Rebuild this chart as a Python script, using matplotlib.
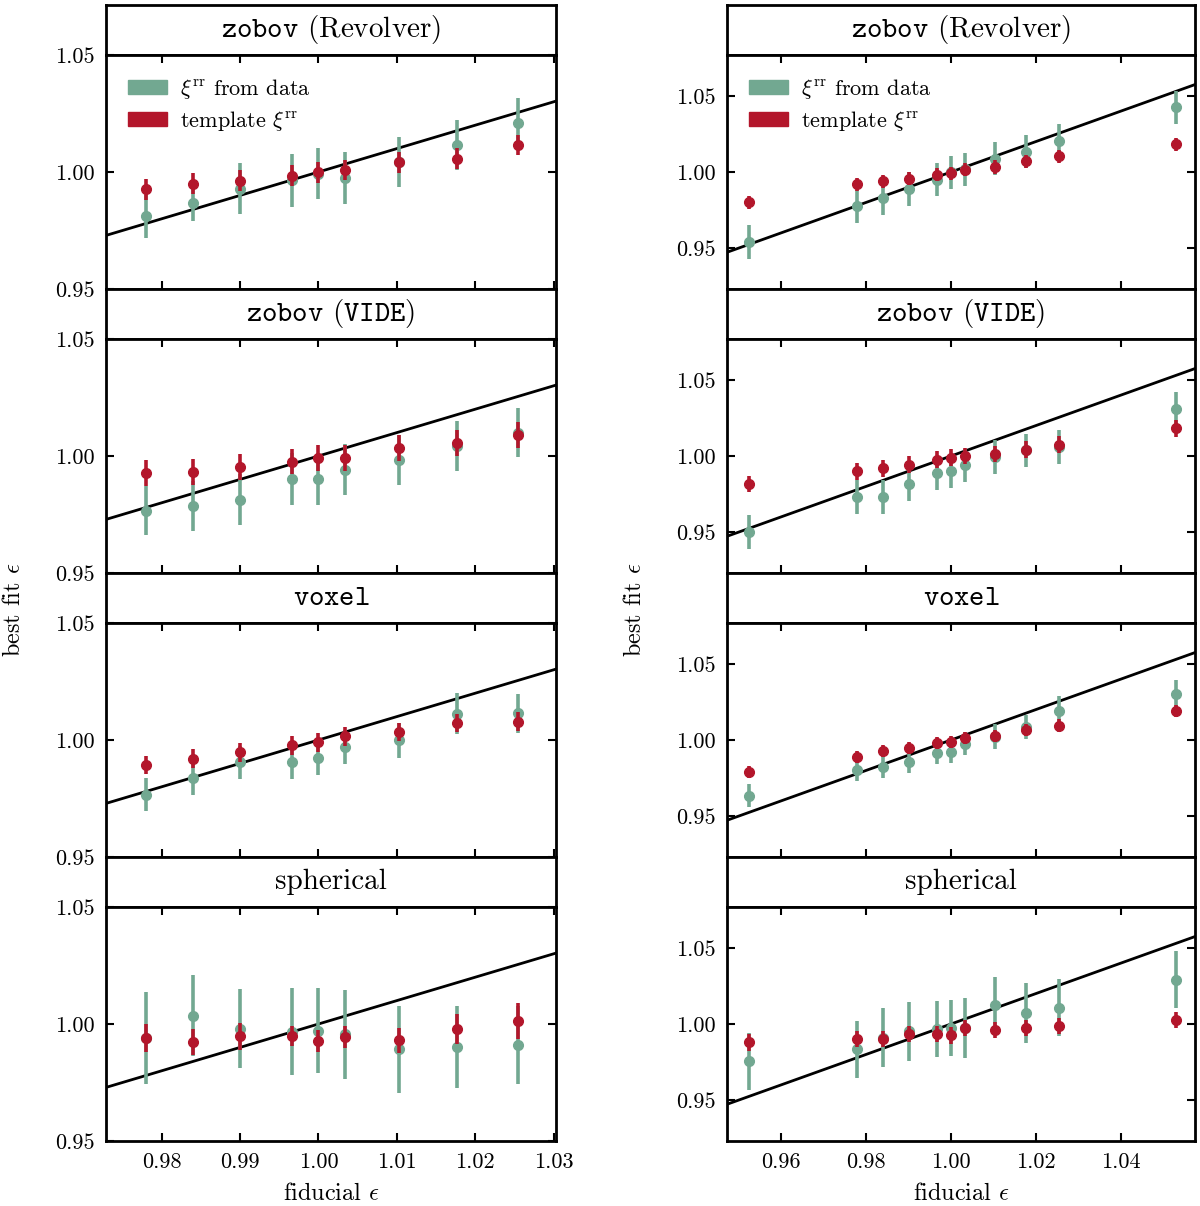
import matplotlib
matplotlib.use("Agg")
import matplotlib.pyplot as plt
from matplotlib.patches import Patch
from matplotlib.ticker import FormatStrFormatter, FixedLocator

plt.rcParams['font.family'] = 'serif'
plt.rcParams['font.serif'] = ['cmr10']
plt.rcParams['mathtext.fontset'] = 'cm'
plt.rcParams['axes.formatter.use_mathtext'] = True

# fiducial epsilon values
fid_right = [0.9525, 0.978, 0.984, 0.990, 0.9966, 1.000, 1.0034, 1.0103, 1.0177, 1.0255, 1.053]
fid_left = fid_right[1:-1]

titles = [r"$\mathtt{zobov}$ (Revolver)", r"$\mathtt{zobov}$ ($\mathtt{VIDE}$)",
          r"$\mathtt{voxel}$", "spherical"]

# left column (narrow range)
data_left = [
    [0.981, 0.9866, 0.9929, 0.9964, 0.9993, 0.9974, 1.0043, 1.0115, 1.0208],
    [0.9766, 0.9786, 0.9813, 0.9902, 0.9902, 0.9942, 0.9984, 1.0043, 1.010],
    [0.9766, 0.9836, 0.9905, 0.9905, 0.9922, 0.997, 0.9999, 1.0113, 1.0114],
    [0.994, 1.0036, 0.998, 0.9967, 0.9972, 0.9956, 0.9892, 0.9902, 0.9912],
]
data_left_err = [
    [0.0091, 0.0074, 0.011, 0.0114, 0.011, 0.011, 0.0107, 0.0108, 0.0108],
    [0.0105, 0.0107, 0.011, 0.011, 0.011, 0.0108, 0.0107, 0.0105, 0.0105],
    [0.0071, 0.0071, 0.0071, 0.0071, 0.0071, 0.0071, 0.0075, 0.0086, 0.0084],
    [0.0195, 0.0172, 0.017, 0.0187, 0.018, 0.019, 0.0187, 0.0177, 0.0167],
]
tmpl_left = [
    [0.9926, 0.995, 0.9963, 0.9984, 0.9999, 1.0009, 1.0041, 1.0057, 1.0115],
    [0.9926, 0.9932, 0.9952, 0.9976, 0.9991, 0.999, 1.0033, 1.0054, 1.009],
    [0.9893, 0.992, 0.9947, 0.9977, 0.999, 1.0016, 1.0034, 1.0073, 1.0078],
    [0.994, 0.9923, 0.9947, 0.9949, 0.9927, 0.9944, 0.993, 0.998, 1.0013],
]
tmpl_left_err = [
    [0.0044] * 9,
    [0.0055] * 9,
    [0.004] * 9,
    [0.006, 0.0056, 0.0057, 0.0044, 0.0046, 0.0047, 0.0055, 0.0064, 0.0075],
]

# right column (wide range)
data_right = [
    [0.954, 0.9775, 0.983, 0.9887, 0.995, 0.9998, 1.0018, 1.0088, 1.0133, 1.0206, 1.0424],
    [0.950, 0.9732, 0.973, 0.9815, 0.9888, 0.9899, 0.9938, 0.9993, 1.0037, 1.006, 1.031],
    [0.9635, 0.9802, 0.9822, 0.9857, 0.9916, 0.9921, 0.9976, 1.0022, 1.0086, 1.0191, 1.0301],
    [0.9756, 0.9835, 0.991, 0.9952, 0.9967, 0.9974, 0.9974, 1.0123, 1.0073, 1.0106, 1.029],
]
data_right_err = [
    [0.011] * 11,
    [0.011] * 11,
    [0.0073, 0.0071, 0.0074, 0.0074, 0.0073, 0.0075, 0.0074, 0.0082, 0.0077, 0.0095, 0.0095],
    [0.0187, 0.0187, 0.0194, 0.0194, 0.0185, 0.0185, 0.0195, 0.0185, 0.0195, 0.0187, 0.0187],
]
tmpl_right = [
    [0.980, 0.992, 0.994, 0.9956, 0.9982, 0.9993, 1.0015, 1.0033, 1.0071, 1.0102, 1.0181],
    [0.9817, 0.9899, 0.9919, 0.9943, 0.9976, 0.9989, 1.000, 1.0013, 1.0042, 1.0073, 1.0183],
    [0.9791, 0.989, 0.9927, 0.9945, 0.9982, 0.9989, 1.0013, 1.0024, 1.0066, 1.0095, 1.0189],
    [0.9879, 0.9903, 0.9903, 0.9932, 0.9936, 0.9925, 0.9974, 0.9963, 0.9976, 0.9987, 1.0026],
]
tmpl_right_err = [
    [0.0043] * 11,
    [0.0055] * 11,
    [0.004] * 11,
    [0.0053] * 11,
]

green = '#72a891'
red = '#b3162b'

W, H = 1200, 1206
fig = plt.figure(figsize=(12, 12.06), dpi=100)


def fx(px):
    return px / W


def fy(px):
    return 1 - px / H


cols = [
    dict(x0=106, x1=556, xlim=(0.9729, 1.0303), ylim=(0.95, 1.05),
         xticks=[0.98, 0.99, 1.00, 1.01, 1.02, 1.03],
         fid=fid_left, d=data_left, de=data_left_err, t=tmpl_left, te=tmpl_left_err),
    dict(x0=727, x1=1195, xlim=(0.9473, 1.0574), ylim=(0.9232, 1.0768),
         xticks=[0.96, 0.98, 1.00, 1.02, 1.04],
         fid=fid_right, d=data_right, de=data_right_err, t=tmpl_right, te=tmpl_right_err),
]

for c in cols:
    for i in range(4):
        top = 5 + 284 * i
        atop = top + 50
        abot = atop + 234
        # title box
        tax = fig.add_axes([fx(c['x0']), fy(atop), fx(c['x1'] - c['x0']), (atop - top) / H])
        tax.set_xticks([])
        tax.set_yticks([])
        for s in tax.spines.values():
            s.set_linewidth(2)
        tax.text(0.5, 0.5, titles[i], ha='center', va='center', fontsize=21,
                 transform=tax.transAxes)

        ax = fig.add_axes([fx(c['x0']), fy(abot), fx(c['x1'] - c['x0']), 234 / H])
        for s in ax.spines.values():
            s.set_linewidth(2)
        ax.plot(c['xlim'], c['xlim'], color='black', lw=2, zorder=1)
        ax.errorbar(c['fid'], c['d'][i], yerr=c['de'][i], fmt='o', color=green,
                    ms=7, elinewidth=2.6, capsize=0, zorder=2)
        ax.errorbar(c['fid'], c['t'][i], yerr=c['te'][i], fmt='o', color=red,
                    ms=7, elinewidth=2.6, capsize=0, zorder=3)
        ax.set_xlim(c['xlim'])
        ax.set_ylim(c['ylim'])
        ax.xaxis.set_major_locator(FixedLocator(c['xticks']))
        ax.yaxis.set_major_locator(FixedLocator([0.95, 1.00, 1.05]))
        ax.yaxis.set_major_formatter(FormatStrFormatter('%.2f'))
        ax.xaxis.set_major_formatter(FormatStrFormatter('%.2f'))
        ax.tick_params(direction='in', top=True, right=True, length=6, width=1.5,
                       labelsize=16, pad=8)
        if i < 3:
            ax.tick_params(labelbottom=False)
        if i == 0:
            handles = [Patch(color=green, label=r"$\xi^{\rm rr}$ from data"),
                       Patch(color=red, label=r"template $\xi^{\rm rr}$")]
            ax.legend(handles=handles, loc='upper left', frameon=False, fontsize=16,
                      handlelength=1.75, handleheight=0.6, borderaxespad=0.6,
                      labelspacing=0.35, handletextpad=0.6)

    fig.text(fx((c['x0'] + c['x1']) / 2), fy(1194), r"fiducial $\epsilon$",
             ha='center', va='center', fontsize=17.5)
    fig.text(fx(c['x0'] - 92), fy(610), r"best fit $\epsilon$", rotation=90,
             ha='center', va='center', fontsize=17.5)

fig.savefig("out.png", dpi=100)
